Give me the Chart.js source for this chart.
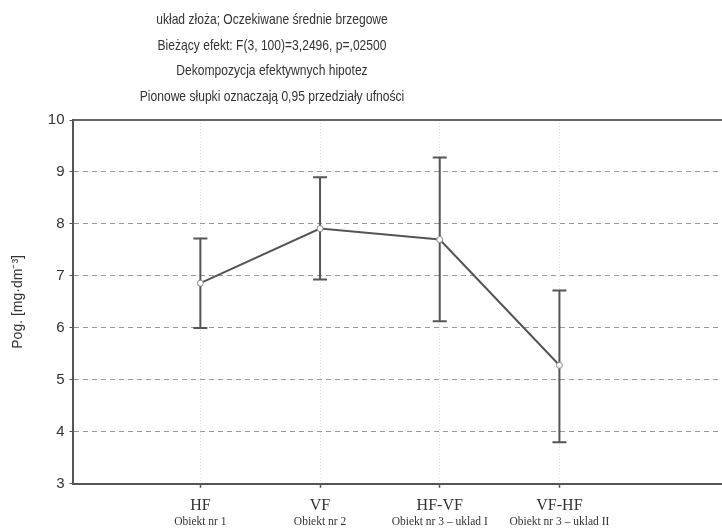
<!DOCTYPE html>
<html>
<head>
<meta charset="utf-8">
<script src="https://cdn.jsdelivr.net/npm/chart.js@4"></script>
<style>
  body { margin: 0; background: #fff; overflow: hidden; width: 722px; height: 529px; }
</style>
</head>
<body>
<canvas id="chart" width="726" height="529"></canvas>
<script>
const titleLines = [
    'układ złoża; Oczekiwane średnie brzegowe',
    'Bieżący efekt: F(3, 100)=3,2496, p=,02500',
    'Dekompozycja efektywnych hipotez',
    'Pionowe słupki oznaczają 0,95 przedziały ufności'
];
const categories = ['HF', 'VF', 'HF-VF', 'VF-HF'];
const subLabels = ['Obiekt nr 1', 'Obiekt nr 2', 'Obiekt nr 3 – uklad I', 'Obiekt nr 3 – uklad II'];
const means = [6.86, 7.91, 7.70, 5.28];
const lower = [6.00, 6.93, 6.13, 3.80];
const upper = [7.72, 8.90, 9.28, 6.72];
const yMin = 3, yMax = 10;
const yLabel = 'Pog. [mg·dm⁻³]';

const xMin = -0.06, xMax = 5.35;
const catTicks = axis => { axis.ticks = categories.map((c, i) => ({ value: i + 1 })); };

// error bars, drawn under the line and points
const errorBars = {
    id: 'errorBars',
    beforeDatasetsDraw(chart) {
        const { ctx, scales: { x, y } } = chart;
        ctx.save();
        ctx.strokeStyle = '#555';
        ctx.lineWidth = 2;
        means.forEach((m, i) => {
            const px = x.getPixelForValue(i + 1);
            const top = y.getPixelForValue(upper[i]);
            const bot = y.getPixelForValue(lower[i]);
            ctx.beginPath();
            ctx.moveTo(px, top); ctx.lineTo(px, bot);
            ctx.moveTo(px - 7, top); ctx.lineTo(px + 7, top);
            ctx.moveTo(px - 7, bot); ctx.lineTo(px + 7, bot);
            ctx.stroke();
        });
        ctx.restore();
    }
};

// title block (condensed, centred off the canvas middle) and the small second row of x labels
const textBlock = {
    id: 'textBlock',
    afterDraw(chart) {
        const { ctx, scales: { x } } = chart;
        ctx.save();
        ctx.font = '15px "Liberation Sans", Arial, sans-serif';
        ctx.fillStyle = '#333';
        ctx.textAlign = 'center';
        ctx.textBaseline = 'middle';
        titleLines.forEach((t, i) => {
            ctx.save();
            ctx.translate(272, 20 + i * 25.5);
            ctx.scale(0.805, 1);
            ctx.fillText(t, 0, 0);
            ctx.restore();
        });
        ctx.font = '11.5px "Liberation Serif", "Times New Roman", serif';
        subLabels.forEach((t, i) => {
            ctx.fillText(t, x.getPixelForValue(i + 1), x.top + 38);
        });
        ctx.restore();
    }
};

new Chart(document.getElementById('chart'), {
    type: 'line',
    data: {
        datasets: [{
            data: means.map((m, i) => ({ x: i + 1, y: m })),
            borderColor: '#555',
            borderWidth: 2,
            tension: 0,
            pointRadius: 3,
            pointBackgroundColor: '#fff',
            pointBorderColor: '#888',
            pointBorderWidth: 1
        }]
    },
    options: {
        responsive: false,
        animation: false,
        layout: { padding: { top: 112, left: 10, right: 0, bottom: 6 } },
        plugins: {
            legend: { display: false },
            tooltip: { enabled: false }
        },
        scales: {
            x: {
                type: 'linear',
                min: xMin, max: xMax,
                afterBuildTicks: catTicks,
                grid: {
                    color: '#ddd',
                    tickColor: '#555',
                    tickLength: 4,
                    tickWidth: 1.5
                },
                border: { display: true, color: '#555', width: 2, dash: [1, 2] },
                ticks: {
                    autoSkip: false,
                    maxRotation: 0,
                    padding: 8,
                    color: '#333',
                    font: { family: '"Liberation Serif", "Times New Roman", serif', size: 16 },
                    callback: (v, i) => categories[i]
                }
            },
            xTop: {
                type: 'linear',
                position: 'top',
                min: xMin, max: xMax,
                grid: { display: false },
                border: { display: true, color: '#666', width: 2 },
                ticks: { display: false }
            },
            y: {
                min: yMin, max: yMax,
                grid: {
                    color: c => (c.tick && (c.tick.value === yMax || c.tick.value === yMin)) ? 'rgba(0,0,0,0)' : '#999',
                    tickColor: '#555',
                    tickLength: 4
                },
                border: { display: true, color: '#555', width: 2, dash: [5, 4] },
                ticks: {
                    stepSize: 1,
                    padding: 5,
                    color: '#333',
                    font: { family: '"Liberation Sans", Arial, sans-serif', size: 15 }
                },
                title: {
                    display: true,
                    text: yLabel,
                    color: '#333',
                    padding: { top: 0, bottom: 16 },
                    font: { family: '"Liberation Sans", Arial, sans-serif', size: 14 }
                }
            }
        }
    },
    plugins: [errorBars, textBlock]
});
</script>
</body>
</html>
